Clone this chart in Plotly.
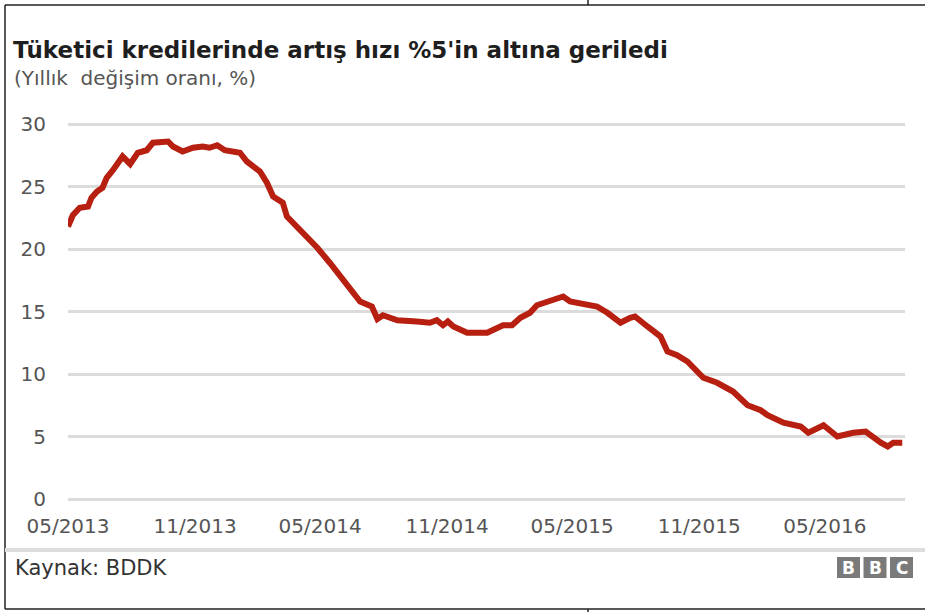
import plotly.graph_objects as go

# ---- data ----
dates = [
    "2013-05-01", "2013-05-08", "2013-05-18", "2013-05-30", "2013-06-04", "2013-06-12",
    "2013-06-20", "2013-06-26", "2013-07-05", "2013-07-19", "2013-07-30", "2013-08-10",
    "2013-08-23", "2013-09-01", "2013-09-23", "2013-09-30", "2013-10-14", "2013-10-29",
    "2013-11-12", "2013-11-22", "2013-12-03", "2013-12-14", "2014-01-05", "2014-01-15",
    "2014-02-03", "2014-02-13", "2014-02-22", "2014-03-08", "2014-03-14", "2014-03-29",
    "2014-04-12", "2014-04-27", "2014-05-15", "2014-06-03", "2014-06-28", "2014-07-15",
    "2014-07-23", "2014-07-31", "2014-08-21", "2014-09-18", "2014-10-07", "2014-10-17",
    "2014-10-26", "2014-11-02", "2014-11-10", "2014-11-30", "2014-12-29", "2015-01-21",
    "2015-02-03", "2015-02-15", "2015-03-01", "2015-03-11", "2015-03-30", "2015-04-18",
    "2015-04-28", "2015-05-27", "2015-06-06", "2015-06-21", "2015-07-10", "2015-07-24",
    "2015-07-31", "2015-08-18", "2015-09-06", "2015-09-16", "2015-09-30", "2015-10-15",
    "2015-11-07", "2015-11-27", "2015-12-20", "2016-01-10", "2016-01-29", "2016-02-08",
    "2016-03-02", "2016-03-27", "2016-04-07", "2016-04-29", "2016-05-19", "2016-06-11",
    "2016-06-29", "2016-07-21", "2016-07-31", "2016-08-08", "2016-08-21",
]
growth = [
    21.8, 22.7, 23.3, 23.4, 24.1, 24.6,
    24.9, 25.7, 26.3, 27.4, 26.8, 27.7,
    27.9, 28.5, 28.6, 28.2, 27.8, 28.1,
    28.2, 28.1, 28.3, 27.9, 27.7, 27.0,
    26.2, 25.3, 24.2, 23.7, 22.6, 21.8,
    20.9, 20.1, 18.9, 17.5, 15.8, 15.4,
    14.4, 14.7, 14.3, 14.2, 14.1, 14.3,
    13.9, 14.2, 13.8, 13.3, 13.3, 13.9,
    13.9, 14.5, 14.9, 15.5, 15.8, 16.2,
    15.8, 15.5, 15.4, 14.9, 14.1, 14.5,
    14.6, 13.8, 13.0, 11.8, 11.5, 11.0,
    9.7, 9.3, 8.6, 7.5, 7.1, 6.7,
    6.1, 5.8, 5.3, 5.9, 5.0, 5.3,
    5.4, 4.5, 4.2, 4.5, 4.5,
]
tick_dates = ["2013-05-01", "2013-11-01", "2014-05-01", "2014-11-01",
              "2015-05-01", "2015-11-01", "2016-05-01"]
tick_labels = ["05/2013", "11/2013", "05/2014", "11/2014",
               "05/2015", "11/2015", "05/2016"]
y_ticks = [0, 5, 10, 15, 20, 25, 30]

title_text = "Tüketici kredilerinde artış hızı %5'in altına geriledi"
subtitle_text = "(Yıllık \u00a0değişim oranı, %)"
source_text = "Kaynak: BDDK"

# ---- layout geometry (pixels) ----
W, H = 925, 612
ML, MR, MT, MB = 68, 20, 120, 109
PW, PH = W - ML - MR, H - MT - MB


def px(x):
    return (x - ML) / PW


def py(y):
    return (H - MB - y) / PH


FONT = "DejaVu Sans, Liberation Sans, Arial, sans-serif"
RED = "#b71f10"
GRID = "#dcdcdc"

fig = go.Figure()
fig.add_trace(go.Scatter(
    x=dates, y=growth, mode="lines",
    line=dict(color=RED, width=6, shape="linear"),
    hoverinfo="skip", showlegend=False,
))

shapes = []
# outer frame lines
line_col = "#222222"
for (x0, y0, x1, y1) in [(5, 5, W, 5), (5, 5, 5, 609), (5, 609, W, 609),
                         (588, 0, 588, 5), (588, 609, 588, H)]:
    shapes.append(dict(type="line", xref="paper", yref="paper",
                       x0=px(x0), y0=py(y0), x1=px(x1), y1=py(y1),
                       line=dict(color=line_col, width=1.5), layer="above"))
# footer separator
shapes.append(dict(type="line", xref="paper", yref="paper",
                   x0=px(5), y0=py(550), x1=px(W), y1=py(550),
                   line=dict(color="#dddddd", width=4)))
# BBC blocks
annotations = []
for i, letter in enumerate(["B", "B", "C"]):
    bx0 = 837 + i * 26.5
    shapes.append(dict(type="rect", xref="paper", yref="paper",
                       x0=px(bx0), x1=px(bx0 + 23), y0=py(557), y1=py(578),
                       fillcolor="#7a7a7a", line=dict(width=0)))
    annotations.append(dict(xref="paper", yref="paper", x=px(bx0 + 11.5), y=py(567.5),
                            text="<b>%s</b>" % letter, showarrow=False,
                            xanchor="center", yanchor="middle",
                            font=dict(family=FONT, size=17, color="#ffffff")))

annotations += [
    dict(xref="paper", yref="paper", x=px(11), y=py(50), text="<b>%s</b>" % title_text,
         showarrow=False, xanchor="left", yanchor="middle",
         font=dict(family=FONT, size=23, color="#1e1e1e")),
    dict(xref="paper", yref="paper", x=px(12), y=py(78), text=subtitle_text,
         showarrow=False, xanchor="left", yanchor="middle",
         font=dict(family=FONT, size=20, color="#555555")),
    dict(xref="paper", yref="paper", x=px(13), y=py(568), text=source_text,
         showarrow=False, xanchor="left", yanchor="middle",
         font=dict(family=FONT, size=21, color="#333333")),
]

fig.update_layout(
    width=W, height=H,
    margin=dict(l=ML, r=MR, t=MT, b=MB, pad=0),
    paper_bgcolor="white", plot_bgcolor="white",
    showlegend=False,
    shapes=shapes, annotations=annotations,
    xaxis=dict(
        type="date", range=["2013-05-01", "2016-08-25"],
        tickmode="array", tickvals=tick_dates, ticktext=tick_labels,
        showgrid=False, zeroline=False, showline=False,
        ticks="outside", ticklen=5, tickcolor="rgba(0,0,0,0)",
        tickfont=dict(family=FONT, size=20, color="#555555"),
        fixedrange=True,
    ),
    yaxis=dict(
        range=[-0.32, 30.32], tickmode="array", tickvals=y_ticks,
        showgrid=True, gridcolor=GRID, gridwidth=3,
        zeroline=True, zerolinecolor=GRID, zerolinewidth=3,
        showline=False, ticks="outside", ticklen=17, tickcolor="rgba(0,0,0,0)",
        tickfont=dict(family=FONT, size=20, color="#555555"),
        fixedrange=True,
    ),
)

fig.write_html("out.html", config={"displayModeBar": False},
               post_script="document.body.style.margin='0';document.body.style.overflow='hidden';")
